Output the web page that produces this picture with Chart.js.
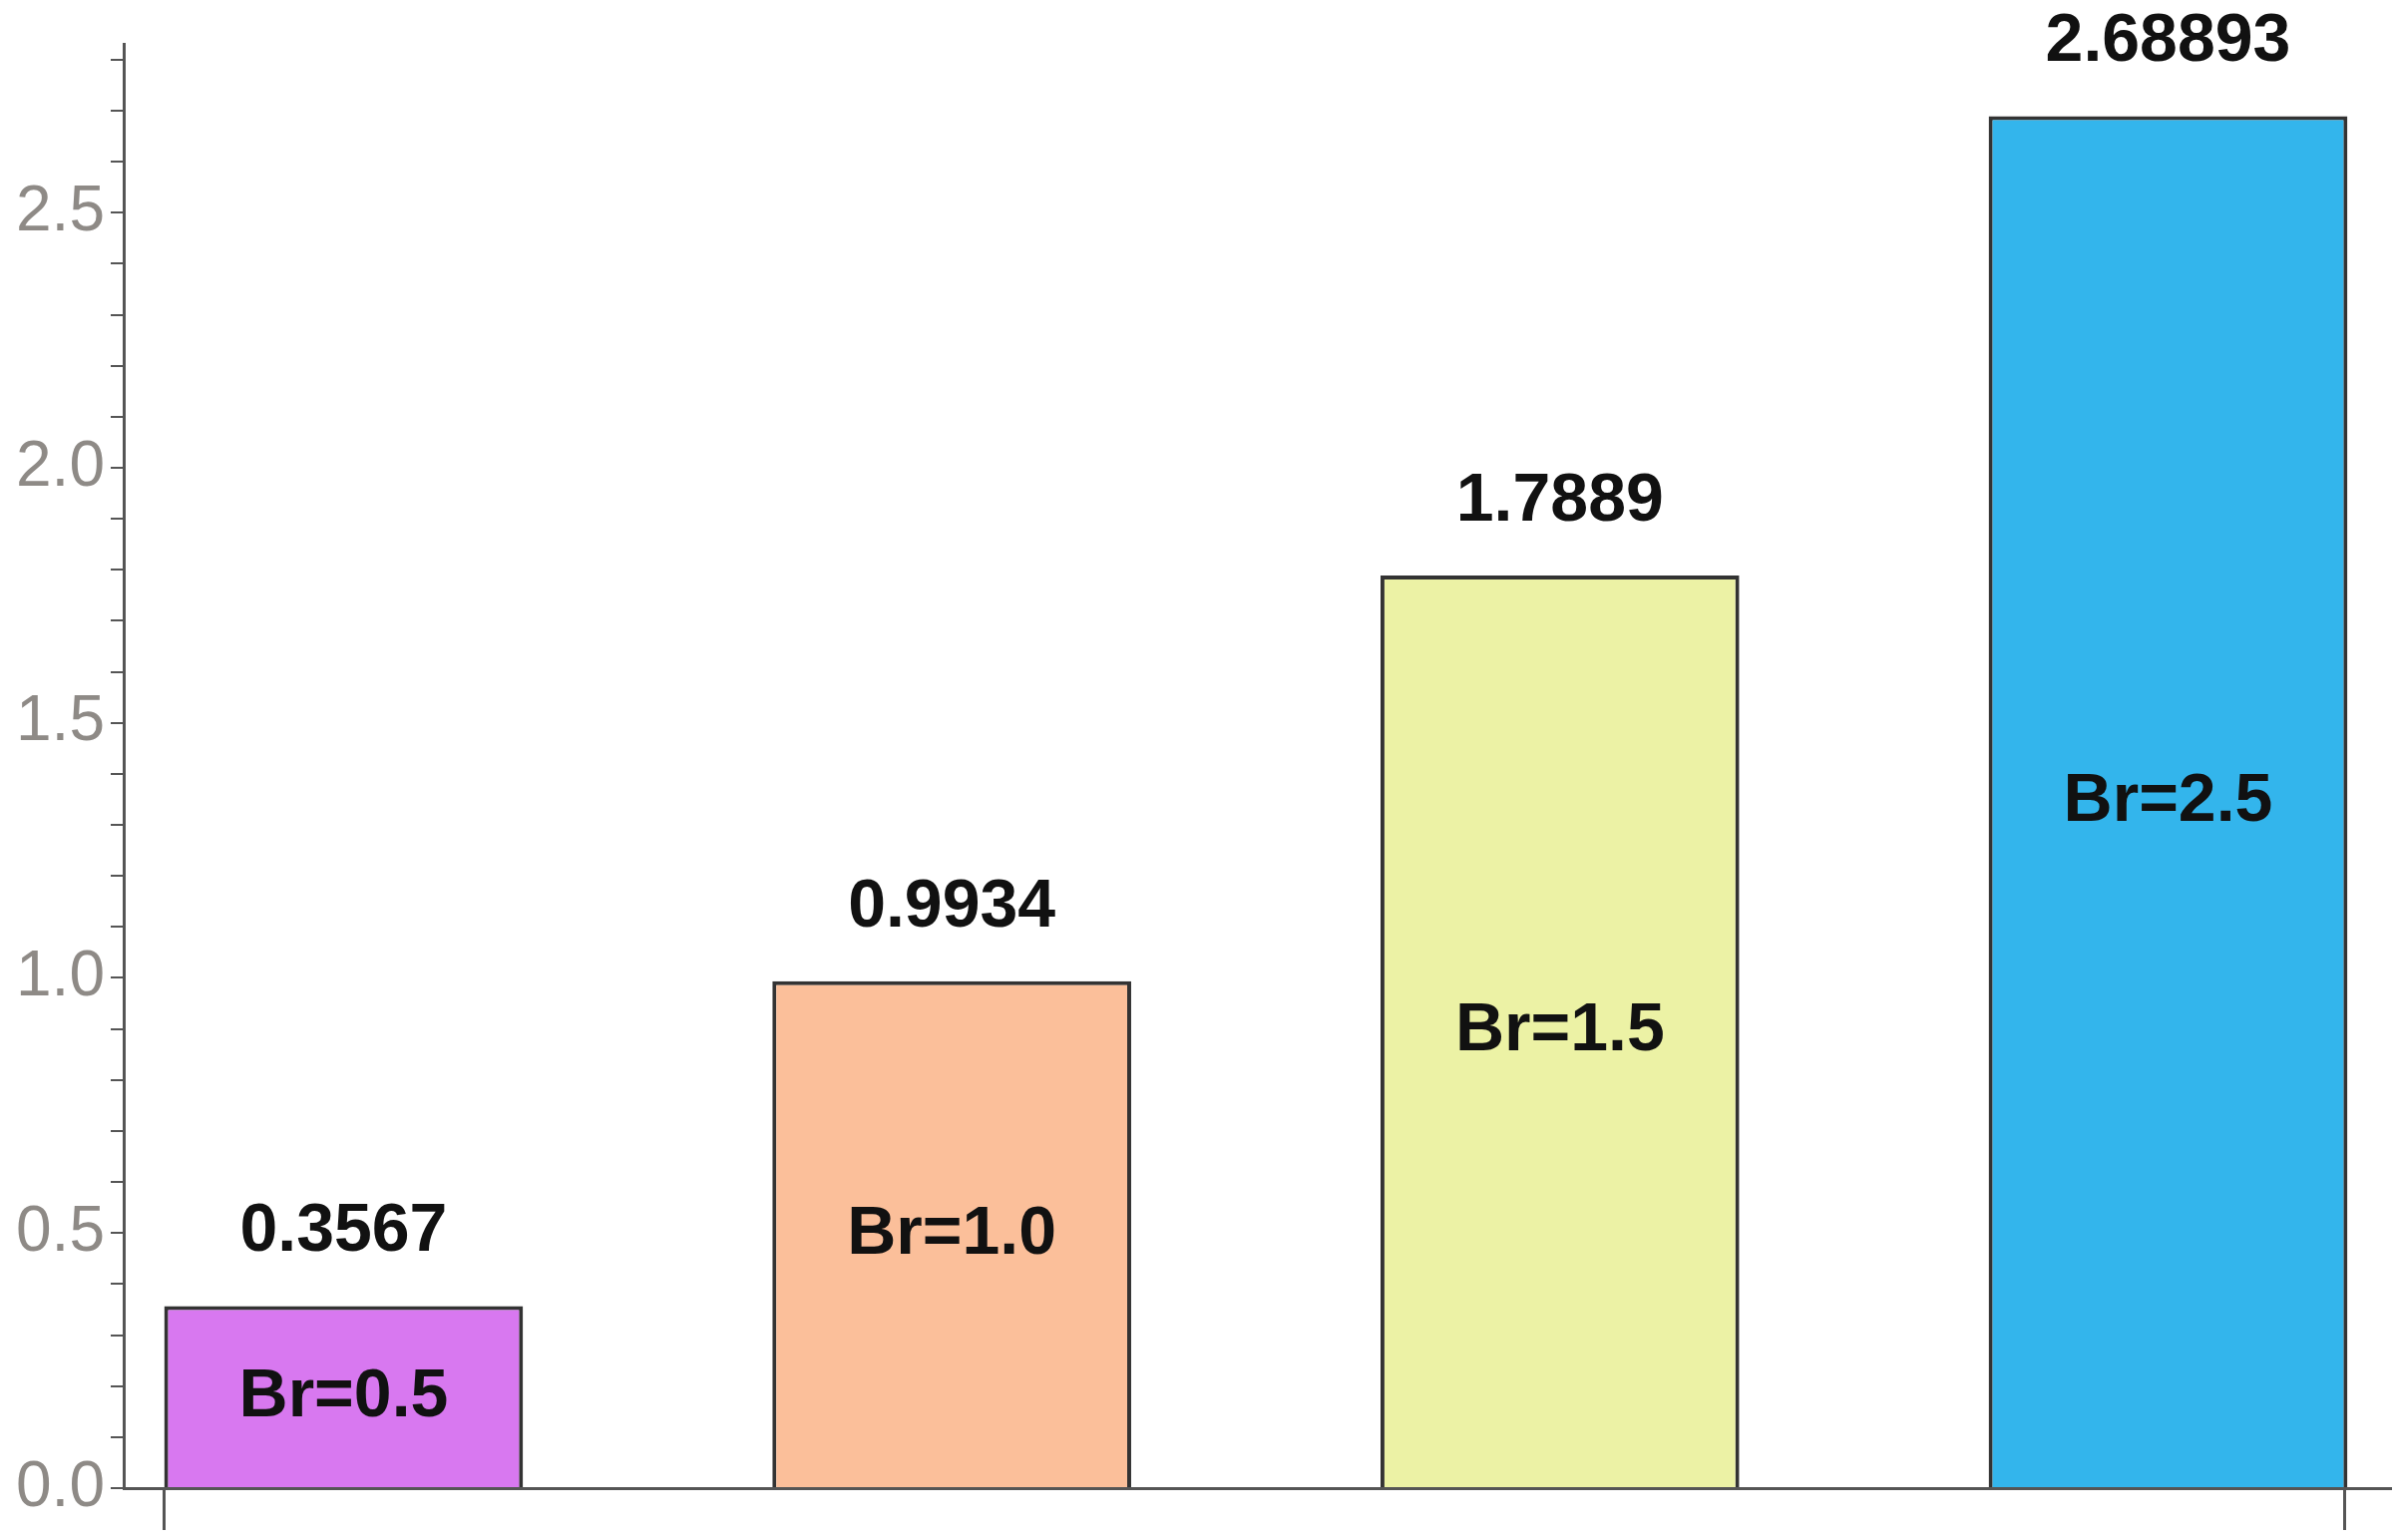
<!DOCTYPE html>
<html>
<head>
<meta charset="utf-8">
<script src="https://cdn.jsdelivr.net/npm/chart.js@4/dist/chart.umd.min.js"></script>
<style>
  html, body { margin: 0; padding: 0; background: #fff; }
  #wrap { width: 2402px; height: 1544px; }
</style>
</head>
<body>
<div id="wrap"><canvas id="c"></canvas></div>
<script>
const positions = [1, 2, 3, 4];
const values = [0.3567, 0.9934, 1.7889, 2.68893];
const valueLabels = ['0.3567', '0.9934', '1.7889', '2.68893'];
const barNames = ['Br=0.5', 'Br=1.0', 'Br=1.5', 'Br=2.5'];
const barColors = ['#D878F0', '#FBBF9A', '#ECF2A5', '#33B5EC'];

// writes value on top and the Br name in the middle of each bar
const barText = {
  id: 'barText',
  afterDatasetsDraw(chart) {
    const ctx = chart.ctx;
    const meta = chart.getDatasetMeta(0);
    const yScale = chart.scales.y;
    ctx.save();
    ctx.fillStyle = '#111';
    ctx.font = 'bold 68px "Liberation Sans", Arial, sans-serif';
    ctx.textAlign = 'center';
    meta.data.forEach((bar, i) => {
      ctx.textBaseline = 'bottom';
      ctx.fillText(valueLabels[i], bar.x, bar.y - 40);
      ctx.textBaseline = 'middle';
      ctx.fillText(barNames[i], bar.x, yScale.getPixelForValue(values[i] / 2));
    });
    ctx.restore();
  }
};

new Chart(document.getElementById('c'), {
  type: 'bar',
  data: {
    datasets: [{
      data: positions.map((p, i) => ({ x: p, y: values[i] })),
      backgroundColor: barColors,
      borderColor: '#333',
      borderWidth: 4,
      borderSkipped: 'bottom',
      barPercentage: 0.59,
      categoryPercentage: 1
    }]
  },
  options: {
    responsive: true,
    maintainAspectRatio: false,
    animation: false,
    layout: { padding: { left: 10, top: 0, right: 6, bottom: 10 } },
    plugins: { legend: { display: false }, tooltip: { enabled: false } },
    scales: {
      x: {
        type: 'linear',
        offset: false,
        min: 0.64,
        max: 4.365,
        afterBuildTicks: (axis) => { axis.ticks = [{ value: 0.705 }, { value: 4.29 }]; },
        grid: { display: true, drawOnChartArea: false, offset: false, color: '#555', lineWidth: 3, tickLength: 42 },
        border: { color: '#555', width: 3 },
        ticks: { display: false }
      },
      y: {
        min: 0,
        max: 2.83,
        afterBuildTicks: (axis) => {
          const t = [];
          for (let i = 0; i <= 28; i++) t.push({ value: i / 10 });
          axis.ticks = t;
        },
        grid: { display: true, drawOnChartArea: false, color: '#555', lineWidth: 2, tickLength: 14 },
        border: { color: '#555', width: 3 },
        ticks: {
          color: '#8e8a86',
          font: { size: 64, family: '"Liberation Sans", Arial, sans-serif' },
          padding: 6,
          autoSkip: false,
          callback: (v) => (Math.round(v * 10) % 5 === 0 ? v.toFixed(1) : '')
        }
      }
    }
  },
  plugins: [barText]
});
</script>
</body>
</html>
